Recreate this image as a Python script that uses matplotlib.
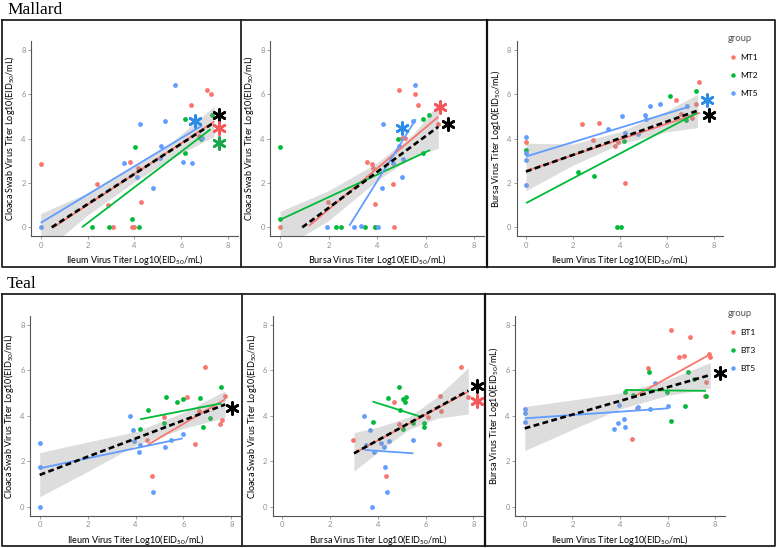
import matplotlib
matplotlib.use("Agg")
import matplotlib.pyplot as plt
from matplotlib.lines import Line2D

# -----------------------------
# Colours (ggplot defaults)
# -----------------------------
RED = "#F8766D"
GREEN = "#00BA38"
BLUE = "#619CFF"
STAR_RED = "#F5575A"
STAR_GREEN = "#1AA64A"
STAR_BLUE = "#2A8DE8"

# -----------------------------
# Data
# -----------------------------
# Mallard, panel 1: ileum vs cloaca
M1_RED = [(0, 2.86), (2.4, 1.95), (2.86, 1.02), (3.82, 2.95), (3.1, 0), (3.9, 0), (4.0, 0),
          (4.15, 2.65), (4.29, 1.15), (6.43, 5.53), (7.1, 6.17), (7.27, 6.0), (6.75, 4.1)]
M1_GREEN = [(2.2, 0), (2.9, 0), (3.9, 0.36), (4.2, 0), (4.03, 3.63), (6.15, 4.9), (6.15, 3.33),
            (7.29, 5.05), (6.86, 4.0)]
M1_BLUE = [(0, 0), (5.75, 6.4), (4.22, 4.64), (5.29, 4.78), (3.54, 2.88), (4.1, 2.25), (5.15, 3.66),
           (4.8, 1.78), (6.08, 2.95), (6.46, 2.9), (6.9, 4.03), (5.1, 3.1)]
M1_FITS = {"red": [(0.54, 0), (7.4, 4.76)], "green": [(1.76, 0), (7.25, 4.42)],
           "blue": [(0, 0.2), (6.88, 4.58)], "all": [(0.47, 0), (7.4, 4.72)]}
M1_BAND_X = [0.0, 2.0, 4.0, 5.5, 7.4]
M1_BAND_LO = [-1.2, 0.55, 2.05, 3.05, 4.1]
M1_BAND_HI = [0.62, 1.55, 2.75, 3.75, 5.45]
M1_STARS = [(6.57, 4.8, STAR_BLUE), (7.6, 5.05, "black"), (7.6, 4.48, STAR_RED), (7.6, 3.8, STAR_GREEN)]

# Mallard, panel 2: bursa vs cloaca
M2_RED = [(0, 0), (1.99, 1.15), (3.6, 2.95), (3.8, 2.85), (3.85, 2.65), (3.92, 1.05), (3.9, 0),
          (4.7, 0), (4.67, 1.96), (4.92, 6.2), (5.02, 4.04), (5.15, 4.04), (5.57, 6.0), (5.7, 5.53),
          (6.53, 4.65)]
M2_GREEN = [(0, 3.63), (0, 0.37), (2.3, 0), (2.5, 0), (3.5, 0), (3.92, 0), (4.85, 3.96), (5.91, 4.9),
            (6.15, 5.05), (5.88, 3.33)]
M2_BLUE = [(1.92, 0), (3.05, 0), (3.34, 0.04), (4.05, 0), (4.26, 4.65), (4.19, 1.79), (5.02, 2.27),
           (4.9, 3.66), (5.08, 3.06), (5.48, 4.78), (5.58, 6.4), (4.67, 2.88)]
M2_FITS = {"red": [(1.2, 0.07), (6.53, 4.98)], "green": [(0, 0.34), (6.19, 3.48)],
           "blue": [(2.86, 0.07), (5.6, 4.87)], "all": [(0.92, 0), (6.53, 4.53)]}
M2_BAND_X = [0.0, 2.0, 4.0, 5.5, 6.53]
M2_BAND_LO = [-1.0, 0.3, 2.1, 3.2, 3.56]
M2_BAND_HI = [0.72, 1.65, 2.9, 4.2, 5.58]
M2_STARS = [(5.02, 4.48, STAR_BLUE), (6.6, 5.43, STAR_RED), (6.94, 4.65, "black")]

# Mallard, panel 3: ileum vs bursa
M3_RED = [(0, 3.82), (2.38, 4.67), (3.09, 4.69), (2.84, 3.94), (3.79, 3.64), (3.93, 3.86), (4.21, 1.99),
          (6.38, 5.73), (6.58, 5.1), (7.05, 4.91), (7.23, 5.55), (7.38, 6.53)]
M3_GREEN = [(0, 3.49), (2.23, 2.47), (2.91, 2.32), (3.86, 0), (4.03, 0), (4.17, 3.89), (6.13, 5.93),
            (6.81, 4.83), (7.22, 6.15)]
M3_BLUE = [(0, 4.09), (0, 3.34), (0, 3.04), (0, 1.92), (3.5, 4.43), (4.1, 5.01), (4.21, 4.27),
           (4.78, 4.21), (5.06, 5.06), (5.28, 5.46), (5.7, 5.55), (5.1, 4.9), (6.84, 5.46)]
M3_FITS = {"red": [(0, 2.54), (7.4, 5.16)], "green": [(0, 1.09), (7.29, 5.16)],
           "blue": [(0, 3.19), (6.84, 5.4)], "all": [(0, 2.51), (7.26, 5.24)]}
M3_BAND_X = [0.0, 2.0, 4.0, 6.0, 7.3]
M3_BAND_LO = [1.65, 2.8, 3.75, 4.3, 4.49]
M3_BAND_HI = [3.79, 3.75, 4.3, 5.25, 5.99]
M3_STARS = [(7.69, 5.73, STAR_BLUE), (7.79, 5.06, "black")]

# Teal, panel 1: ileum vs cloaca
T1_RED = [(6.89, 6.17), (6.13, 4.82), (5.19, 3.96), (4.47, 2.94), (4.67, 1.37), (6.47, 2.78),
          (6.65, 4.21), (7.74, 4.89), (7.6, 3.82), (7.51, 3.63)]
T1_GREEN = [(4.5, 4.26), (5.25, 4.82), (5.71, 4.61), (5.96, 4.74), (6.68, 4.77), (7.57, 5.26),
            (4.19, 3.44), (5.19, 3.7), (7.1, 3.91), (6.83, 3.51)]
T1_BLUE = [(0, 2.79), (0, 1.75), (0, 0), (3.75, 3.98), (3.89, 3.38), (3.93, 2.89), (4.18, 2.72),
           (4.15, 2.39), (4.74, 0.66), (5.22, 2.61), (5.47, 2.94), (5.99, 3.2)]
T1_FITS = {"red": [(4.5, 2.72), (7.74, 4.73)], "green": [(4.19, 3.85), (7.58, 4.55)],
           "blue": [(0, 1.69), (5.97, 3.01)], "all": [(0, 1.4), (7.74, 4.5)]}
T1_BAND_X = [0.0, 2.0, 4.0, 6.0, 7.74]
T1_BAND_LO = [0.44, 1.55, 2.7, 3.45, 3.92]
T1_BAND_HI = [2.38, 2.85, 3.3, 4.15, 5.1]
T1_STARS = [(8.04, 4.36, "black")]

# Teal, panel 2: bursa vs cloaca
T2_RED = [(2.97, 2.94), (4.34, 1.37), (4.69, 4.63), (4.87, 3.63), (6.12, 3.96), (6.61, 4.89),
          (6.65, 4.21), (6.58, 2.78), (7.49, 6.17), (7.79, 4.82)]
T2_GREEN = [(4.89, 5.26), (4.41, 4.77), (5.07, 4.74), (5.18, 4.82), (5.14, 4.6), (4.93, 4.26),
            (3.78, 3.74), (5.04, 3.42), (5.46, 3.67), (5.92, 3.7), (5.92, 3.49)]
T2_BLUE = [(3.41, 3.99), (3.67, 3.38), (3.5, 2.72), (3.85, 2.39), (4.13, 2.79), (4.27, 2.61),
           (4.47, 2.91), (5.47, 2.94), (4.3, 1.76), (4.4, 0.66), (3.74, 0)]
T2_FITS = {"red": [(3.0, 2.35), (7.79, 5.07)], "green": [(3.78, 4.63), (5.8, 3.96)],
           "blue": [(3.44, 2.5), (5.49, 2.35)], "all": [(3.0, 2.35), (7.79, 5.11)]}
T2_BAND_X = [3.0, 4.0, 5.3, 6.5, 7.79]
T2_BAND_LO = [1.57, 2.4, 3.4, 3.9, 4.08]
T2_BAND_HI = [3.26, 3.5, 3.95, 4.85, 6.12]
T2_STARS = [(8.14, 5.32, "black"), (8.14, 4.67, STAR_RED)]

# Teal, panel 3: ileum vs bursa
T3_RED = [(6.15, 7.78), (6.92, 7.49), (6.49, 6.58), (6.7, 6.65), (5.19, 6.12), (7.72, 6.71),
          (7.79, 6.58), (7.62, 5.51), (7.55, 4.88), (4.71, 4.33), (4.49, 2.98)]
T3_GREEN = [(5.2, 5.92), (6.85, 5.92), (7.12, 5.62), (4.21, 5.04), (4.53, 4.92), (5.99, 5.05),
            (7.61, 4.88), (6.71, 4.43), (6.15, 3.79)]
T3_BLUE = [(0, 4.32), (0, 4.14), (0, 3.74), (3.94, 4.46), (4.76, 4.4), (5.24, 4.29), (6.0, 4.43),
           (5.48, 5.46), (3.76, 3.42), (3.9, 3.67), (4.15, 3.86), (4.2, 3.51)]
T3_FITS = {"red": [(4.53, 4.82), (7.79, 6.71)], "green": [(4.21, 5.14), (7.61, 5.1)],
           "blue": [(0, 3.89), (6.0, 4.33)], "all": [(0, 3.45), (7.79, 5.8)]}
T3_BAND_X = [0.0, 2.0, 4.0, 6.0, 7.79]
T3_BAND_LO = [2.47, 3.4, 4.3, 4.9, 5.21]
T3_BAND_HI = [4.41, 4.7, 5.0, 5.6, 6.34]
T3_STARS = [(8.18, 5.87, "black")]

TICKS = [0, 2, 4, 6, 8]
YLAB_CLOACA = "Cloaca Swab Virus Titer Log10(EID$_{50}$/mL)"
YLAB_BURSA = "Bursa Virus Titer Log10(EID$_{50}$/mL)"
XLAB_ILEUM = "Ileum Virus Titer Log10(EID$_{50}$/mL)"
XLAB_BURSA = "Bursa Virus Titer Log10(EID$_{50}$/mL)"
MALLARD_GROUPS = ["MT1", "MT2", "MT5"]
TEAL_GROUPS = ["BT1", "BT3", "BT5"]

# -----------------------------
# Figure
# -----------------------------
plt.rcParams["font.family"] = ["Lato", "DejaVu Sans"]
plt.rcParams["mathtext.fontset"] = "custom"
plt.rcParams["mathtext.rm"] = "Lato"
plt.rcParams["mathtext.it"] = "Lato"

W, H = 778, 548
fig = plt.figure(figsize=(W / 100, H / 100), dpi=100)


def px_axes(left, top, right, bottom):
    return fig.add_axes([left / W, 1 - bottom / H, (right - left) / W, (bottom - top) / H])


def draw_panel(ax, red, green, blue, fits, bx, blo, bhi, stars, xlab, ylab):
    for pts, col in ((red, RED), (green, GREEN), (blue, BLUE)):
        ax.scatter([p[0] for p in pts], [p[1] for p in pts], s=12, color=col,
                   linewidths=0, zorder=2, clip_on=False)
    for key, col in (("red", RED), ("green", GREEN), ("blue", BLUE)):
        (x0, y0), (x1, y1) = fits[key]
        ax.plot([x0, x1], [y0, y1], color=col, lw=1.3, zorder=3, solid_capstyle="butt")
    ax.fill_between(bx, blo, bhi, color="0.6", alpha=0.33, lw=0, zorder=2.5)
    (x0, y0), (x1, y1) = fits["all"]
    ax.plot([x0, x1], [y0, y1], color="black", lw=1.9, ls=(0, (2.2, 1.3)), zorder=4)
    for sx, sy, col in stars:
        ax.scatter([sx], [sy], marker=(6, 2, 0), s=75, color=col, linewidths=1.9,
                   zorder=5, clip_on=False)
    ax.set_xlim(-0.4, 8.4)
    ax.set_ylim(-0.4, 8.4)
    ax.set_xticks(TICKS)
    ax.set_yticks(TICKS)
    ax.tick_params(labelsize=5.5, labelcolor="#909090", color="#909090", length=2, width=0.6, pad=2)
    for s in ("top", "right"):
        ax.spines[s].set_visible(False)
    for s in ("left", "bottom"):
        ax.spines[s].set_color("#555555")
        ax.spines[s].set_linewidth(0.8)
    ax.set_xlabel(xlab, fontsize=6.5, labelpad=3)
    ax.set_ylabel(ylab, fontsize=6.5, labelpad=3)


# panel positions in pixels: (left, top, right, bottom)
ax = px_axes(31.3, 40.8, 237.6, 236.2)
draw_panel(ax, M1_RED, M1_GREEN, M1_BLUE, M1_FITS, M1_BAND_X, M1_BAND_LO, M1_BAND_HI,
           M1_STARS, XLAB_ILEUM, YLAB_CLOACA)
ax = px_axes(270.3, 40.8, 483.7, 236.2)
draw_panel(ax, M2_RED, M2_GREEN, M2_BLUE, M2_FITS, M2_BAND_X, M2_BAND_LO, M2_BAND_HI,
           M2_STARS, XLAB_BURSA, YLAB_CLOACA)
ax = px_axes(516.6, 40.8, 723.4, 236.2)
draw_panel(ax, M3_RED, M3_GREEN, M3_BLUE, M3_FITS, M3_BAND_X, M3_BAND_LO, M3_BAND_HI,
           M3_STARS, XLAB_ILEUM, YLAB_BURSA)
ax = px_axes(30.1, 315.9, 241.0, 515.8)
draw_panel(ax, T1_RED, T1_GREEN, T1_BLUE, T1_FITS, T1_BAND_X, T1_BAND_LO, T1_BAND_HI,
           T1_STARS, XLAB_ILEUM, YLAB_CLOACA)
ax = px_axes(272.8, 315.9, 482.9, 515.8)
draw_panel(ax, T2_RED, T2_GREEN, T2_BLUE, T2_FITS, T2_BAND_X, T2_BAND_LO, T2_BAND_HI,
           T2_STARS, XLAB_BURSA, YLAB_CLOACA)
ax = px_axes(515.2, 315.9, 724.8, 515.8)
draw_panel(ax, T3_RED, T3_GREEN, T3_BLUE, T3_FITS, T3_BAND_X, T3_BAND_LO, T3_BAND_HI,
           T3_STARS, XLAB_ILEUM, YLAB_BURSA)

# legends
for groups, top in ((MALLARD_GROUPS, 30), (TEAL_GROUPS, 305)):
    handles = [Line2D([], [], ls="", marker="o", ms=3.2, mew=0, color=c) for c in (RED, GREEN, BLUE)]
    leg = fig.legend(handles, groups, loc="upper left", bbox_to_anchor=(724 / W, 1 - top / H),
                     frameon=False, title="group", fontsize=6, title_fontsize=6.8,
                     labelspacing=1.3, handletextpad=0.2, handlelength=1.2, borderpad=0)
    leg._legend_box.align = "left"
    leg.get_title().set_color("#555555")

# panel frames
frame_ax = fig.add_axes([0, 0, 1, 1], zorder=-1)
frame_ax.set_xlim(0, W)
frame_ax.set_ylim(H, 0)
frame_ax.axis("off")
for top, bottom, div1, div2 in ((20, 267, 241, 487), (294, 546, 242, 485)):
    frame_ax.plot([2, 775, 775, 2, 2], [top, top, bottom, bottom, top], color="#222222", lw=1.3)
    frame_ax.plot([div1, div1], [top, bottom], color="#222222", lw=1.3)
    frame_ax.plot([div2, div2], [top, bottom], color="#111111", lw=1.6)

fig.text(7 / W, 1 - 10 / H, "Mallard", family="Liberation Serif", fontsize=12.5, va="center")
fig.text(7 / W, 1 - 284 / H, "Teal", family="Liberation Serif", fontsize=12.5, va="center")

fig.savefig("out.png", dpi=100)
